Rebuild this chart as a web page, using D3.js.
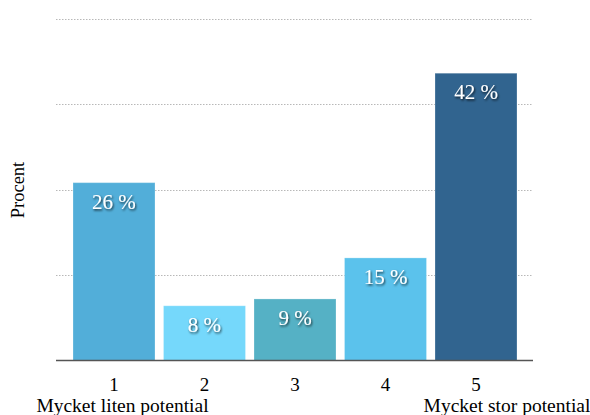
<!DOCTYPE html>
<html>
<head>
<meta charset="utf-8">
<script src="https://cdn.jsdelivr.net/npm/d3@7/dist/d3.min.js"></script>
<style>
  html, body { margin: 0; padding: 0; background: #fff; }
  svg { display: block; font-family: "Liberation Serif", "Times New Roman", serif; }
</style>
</head>
<body>
<svg id="chart" width="590" height="415"></svg>
<script>
// Answer categories on the 1–5 scale and the share of respondents (%)
const categories = ["1", "2", "3", "4", "5"];
const values = [26, 8, 9, 15, 42];
const barColors = ["#52aed9", "#75d8fb", "#55b1c5", "#5bc2ec", "#31648f"];
const gridTicks = [12.5, 25, 37.5, 50];
const endLabels = ["Mycket liten potential", "Mycket stor potential"];
const yTitle = "Procent";

const svg = d3.select("#chart");

const plot = { left: 56, right: 533, top: 18.5, bottom: 360.5 };

const x = d3.scaleBand()
  .domain(categories)
  .range([73, 517])
  .paddingInner(0.094)
  .paddingOuter(0);

const y = d3.scaleLinear()
  .domain([0, 50])
  .range([plot.bottom, plot.top]);

// Soft drop shadow for the value labels
const defs = svg.append("defs");
const f = defs.append("filter").attr("id", "shadow")
  .attr("x", "-20%").attr("y", "-20%").attr("width", "140%").attr("height", "160%");
f.append("feDropShadow")
  .attr("dx", 1).attr("dy", 1.5).attr("stdDeviation", 1)
  .attr("flood-color", "#000").attr("flood-opacity", 0.75);

// Dotted horizontal gridlines
svg.append("g")
  .selectAll("line")
  .data(gridTicks)
  .join("line")
  .attr("x1", plot.left).attr("x2", plot.right)
  .attr("y1", d => Math.round(y(d)) + 0.5)
  .attr("y2", d => Math.round(y(d)) + 0.5)
  .attr("stroke", "#b8b8b8")
  .attr("stroke-width", 1)
  .attr("stroke-dasharray", "1.5,1.5");

// Bars
svg.append("g")
  .selectAll("rect")
  .data(values)
  .join("rect")
  .attr("x", (d, i) => x(categories[i]))
  .attr("y", d => y(d))
  .attr("width", x.bandwidth())
  .attr("height", d => plot.bottom - y(d))
  .attr("fill", (d, i) => barColors[i])
  .attr("stroke", "rgba(255,255,255,0.25)")
  .attr("stroke-width", 1);

// Value labels inside the top of each bar
svg.append("g")
  .selectAll("text")
  .data(values)
  .join("text")
  .attr("x", (d, i) => x(categories[i]) + x.bandwidth() / 2)
  .attr("y", d => y(d) + 26)
  .attr("text-anchor", "middle")
  .attr("font-size", 21)
  .attr("fill", "#fff")
  .attr("filter", "url(#shadow)")
  .text(d => d + " %");

// Baseline axis
svg.append("line")
  .attr("x1", plot.left).attr("x2", plot.right)
  .attr("y1", plot.bottom).attr("y2", plot.bottom)
  .attr("stroke", "#555")
  .attr("stroke-width", 1.5);

// Category tick labels
const xAxis = d3.axisBottom(x).tickSize(0).tickPadding(0);
const xg = svg.append("g")
  .attr("transform", `translate(0,${plot.bottom})`)
  .call(xAxis);
xg.select(".domain").remove();
xg.selectAll("text")
  .attr("y", 30.5)
  .attr("dy", 0)
  .attr("font-size", 19)
  .attr("font-family", "Liberation Serif, Times New Roman, serif")
  .attr("fill", "#000");

// Scale-end descriptions under the first and last category
svg.append("text")
  .attr("x", x(categories[0]) + x.bandwidth() / 2 + 8.5)
  .attr("y", 412)
  .attr("text-anchor", "middle")
  .attr("font-size", 19.5)
  .attr("fill", "#000")
  .text(endLabels[0]);

svg.append("text")
  .attr("x", x(categories[4]) + x.bandwidth() / 2 + 31)
  .attr("y", 412)
  .attr("text-anchor", "middle")
  .attr("font-size", 19.5)
  .attr("fill", "#000")
  .text(endLabels[1]);

// Y-axis title
svg.append("text")
  .attr("transform", "translate(24,190) rotate(-90)")
  .attr("text-anchor", "middle")
  .attr("font-size", 18.5)
  .attr("fill", "#000")
  .text(yTitle);
</script>
</body>
</html>
